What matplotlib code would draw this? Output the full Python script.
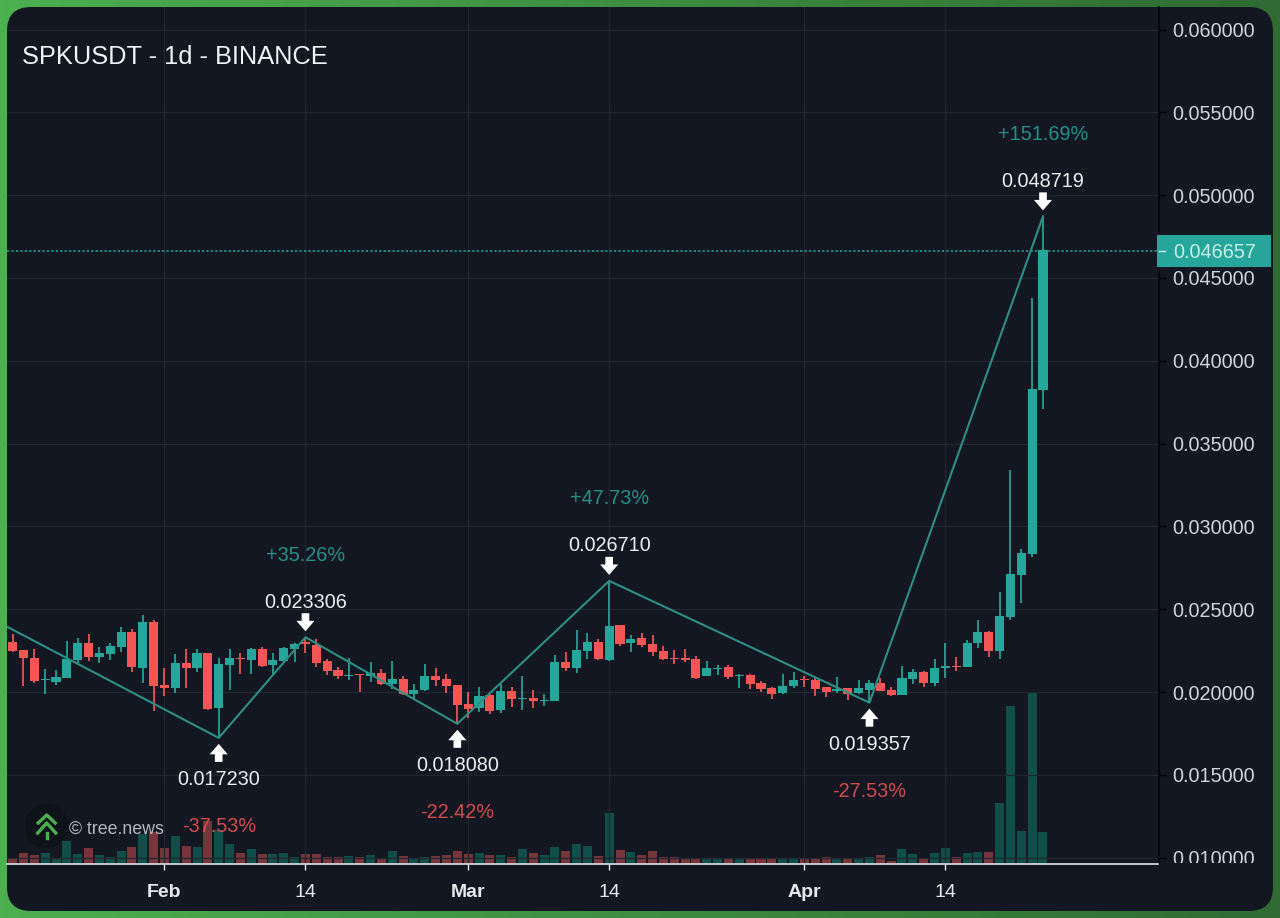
import numpy as np
import pandas as pd
import matplotlib
matplotlib.use("Agg")
import matplotlib.pyplot as plt
import matplotlib.dates as mdates
from matplotlib.patches import Circle, FancyBboxPatch, Rectangle
from matplotlib.transforms import Bbox, offset_copy

plt.rcParams['font.family'] = ['Liberation Sans', 'DejaVu Sans']

start_date = '2026-01-18'

# prices in thousandths of USDT
opens = [23.02, 22.51, 22.07, 20.70, 20.60, 20.84, 21.95, 22.97, 22.09, 22.31,
         22.69, 23.62, 21.45, 24.22, 20.40, 20.24, 21.77, 21.45, 22.37, 19.02,
         21.61, 22.05, 21.95, 22.57, 21.61, 21.87, 22.57, 23.02, 22.81, 21.85,
         21.35, 20.98, 21.07, 20.96, 21.17, 20.46, 20.78, 19.88, 20.10, 20.94,
         20.80, 20.40, 19.26, 19.02, 19.80, 18.89, 20.06, 19.56, 19.64, 19.48,
         19.44, 21.81, 21.43, 22.49, 23.02, 21.95, 24.02, 22.93, 23.24, 22.91,
         22.47, 22.05, 22.03, 22.01, 20.96, 21.39, 21.51, 20.96, 21.01, 20.56,
         20.24, 19.92, 20.34, 20.80, 20.74, 20.28, 20.06, 20.22, 19.94, 20.14,
         20.56, 20.12, 19.80, 20.80, 21.21, 20.54, 21.43, 21.57, 21.51, 22.94,
         23.64, 22.45, 24.51, 27.08, 28.33, 38.21]
highs = [23.52, 22.55, 22.61, 21.41, 21.31, 23.08, 23.28, 23.48, 22.71, 22.97,
         23.92, 23.82, 24.66, 24.36, 21.45, 22.31, 22.59, 22.57, 22.37, 22.03,
         22.57, 22.37, 22.67, 22.71, 22.37, 22.71, 22.97, 23.31, 23.18, 21.97,
         21.49, 22.07, 21.07, 21.81, 21.37, 21.89, 20.94, 20.50, 21.67, 21.45,
         21.11, 20.40, 19.98, 20.30, 19.86, 20.46, 20.28, 20.98, 20.14, 19.86,
         22.25, 22.39, 23.72, 23.58, 23.22, 26.71, 24.06, 23.46, 23.58, 23.46,
         22.79, 22.51, 22.59, 22.15, 21.85, 21.63, 21.65, 21.07, 21.07, 20.64,
         20.32, 21.07, 21.21, 20.98, 20.90, 20.32, 20.88, 20.26, 20.70, 20.70,
         20.86, 20.30, 21.55, 21.39, 21.25, 22.01, 22.94, 22.13, 23.14, 24.35,
         23.68, 26.04, 33.40, 28.61, 43.78, 48.72]
lows = [22.41, 20.34, 20.54, 19.86, 20.40, 20.84, 21.75, 21.85, 21.77, 21.95,
        22.41, 21.21, 20.54, 18.85, 19.78, 19.94, 20.24, 21.21, 18.91, 17.23,
        20.10, 21.07, 21.11, 21.51, 21.01, 21.81, 21.81, 22.37, 21.49, 21.01,
        20.80, 20.74, 20.00, 20.58, 20.42, 20.20, 19.84, 19.60, 20.04, 20.34,
        19.92, 18.08, 18.41, 18.79, 18.65, 18.73, 19.12, 18.89, 19.06, 19.18,
        19.44, 21.27, 21.13, 21.99, 21.93, 21.85, 22.75, 22.43, 22.73, 22.15,
        21.93, 21.71, 21.81, 20.76, 20.94, 21.03, 20.76, 20.24, 20.18, 20.02,
        19.58, 19.90, 20.26, 20.30, 19.74, 19.70, 19.96, 19.52, 19.90, 19.36,
        20.04, 19.76, 19.80, 20.50, 20.32, 20.36, 20.87, 21.27, 21.49, 22.68,
        22.13, 21.97, 24.35, 25.39, 28.13, 37.06]
closes = [22.45, 22.05, 20.64, 20.76, 20.88, 21.97, 22.97, 22.09, 22.37, 22.77,
          23.64, 21.49, 24.22, 20.36, 20.24, 21.75, 21.45, 22.37, 18.95, 21.67,
          22.03, 21.97, 22.59, 21.59, 21.95, 22.63, 22.91, 22.87, 21.77, 21.29,
          20.96, 21.05, 21.01, 21.15, 20.48, 20.78, 19.88, 20.12, 20.98, 20.74,
          20.36, 19.22, 18.99, 19.78, 18.87, 20.06, 19.56, 19.64, 19.46, 19.54,
          21.81, 21.43, 22.51, 23.02, 21.97, 23.98, 22.87, 23.22, 22.85, 22.39,
          22.01, 21.97, 21.95, 20.86, 21.43, 21.47, 20.90, 21.03, 20.50, 20.18,
          19.88, 20.38, 20.74, 20.74, 20.20, 20.00, 20.18, 19.88, 20.24, 20.56,
          20.06, 19.80, 20.84, 21.19, 20.54, 21.47, 21.59, 21.49, 22.98, 23.62,
          22.45, 24.59, 27.14, 28.39, 38.27, 46.66]
# volume relative to the biggest bar
volumes = [3.1, 6.6, 5.5, 6.6, 3.3, 13.1, 6.0, 9.4, 5.5, 3.9,
           7.8, 9.9, 17.6, 18.5, 9.4, 16.2, 10.5, 9.8, 24.8, 19.5,
           11.7, 6.6, 8.8, 6.0, 6.0, 6.6, 4.3, 5.7, 5.7, 4.1,
           4.1, 4.5, 4.1, 5.5, 2.9, 7.8, 4.7, 3.5, 4.3, 4.9,
           5.1, 7.8, 6.0, 6.6, 5.5, 5.5, 4.1, 8.8, 6.2, 5.1,
           9.8, 7.6, 11.9, 10.3, 4.5, 29.8, 8.2, 7.2, 5.5, 7.8,
           4.1, 4.1, 3.5, 3.5, 3.5, 2.9, 2.9, 3.3, 2.9, 2.9,
           2.9, 3.5, 3.5, 2.7, 3.3, 3.9, 3.5, 3.3, 3.5, 4.3,
           5.3, 2.0, 8.8, 5.7, 3.1, 6.6, 9.2, 3.9, 6.6, 7.0,
           7.2, 35.7, 91.7, 19.3, 100.0, 18.7]

# zigzag pivots, the first one sits just left of the visible range
pivot_dates = ['2026-01-17', '2026-02-06', '2026-02-14', '2026-02-28', '2026-03-14', '2026-04-07', '2026-04-23']
pivot_prices = [0.02411, 0.017230, 0.023306, 0.018080, 0.026710, 0.019357, 0.048719]
pivot_labels = [None, '0.017230', '0.023306', '0.018080', '0.026710', '0.019357', '0.048719']
pivot_changes = [None, '-37.53%', '+35.26%', '-22.42%', '+47.73%', '-27.53%', '+151.69%']

last_price = 0.046657
price_ticks = [0.010, 0.015, 0.020, 0.025, 0.030, 0.035, 0.040, 0.045, 0.050, 0.055, 0.060]
time_ticks = ['2026-02-01', '2026-02-14', '2026-03-01', '2026-03-14', '2026-04-01', '2026-04-14']
time_labels = ['Feb', '14', 'Mar', '14', 'Apr', '14']
month_labels = ['Feb', 'Mar', 'Apr']
title = 'SPKUSDT - 1d - BINANCE'

UP = '#26a69a'
DOWN = '#f65555'
VOL_UP = '#104f49'
VOL_DOWN = '#75363b'
PANEL = '#131722'
GRID = '#22262f'
LABEL = '#d1d4da'
WIDTH, HEIGHT = 1280, 918

fig = plt.figure(figsize=(WIDTH / 100, HEIGHT / 100), dpi=100)

# green frame and rounded panel, in pixel coordinates
bg = fig.add_axes([0, 0, 1, 1])
bg.set_xlim(0, WIDTH)
bg.set_ylim(HEIGHT, 0)
bg.axis('off')
frame = np.array([matplotlib.colors.to_rgb('#4caf50'), matplotlib.colors.to_rgb('#2f6b33')])
ramp = np.linspace(0, 1, 256)[None, :, None]
bg.imshow(frame[0] * (1 - ramp) + frame[1] * ramp, extent=[0, WIDTH, HEIGHT, 0], aspect='auto')
r = 24
bg.add_patch(FancyBboxPatch((7 + r, 7 + r), 1266 - 2 * r, 904 - 2 * r,
                            boxstyle=f'round,pad={r},rounding_size={r}',
                            facecolor=PANEL, edgecolor='none'))

dates = mdates.date2num(pd.date_range(start_date, periods=len(opens)))
o = np.array(opens) / 1000
h = np.array(highs) / 1000
l = np.array(lows) / 1000
c = np.array(closes) / 1000
colors = [UP if close >= op else DOWN for op, close in zip(o, c)]
vol_colors = [VOL_UP if close >= op else VOL_DOWN for op, close in zip(o, c)]

ax_left, ax_right, ax_top, ax_bottom = 7, 1158.5, 7, 864
ax = fig.add_axes([ax_left / WIDTH, 1 - ax_bottom / HEIGHT,
                   (ax_right - ax_left) / WIDTH, (ax_bottom - ax_top) / HEIGHT])
ax.patch.set_visible(False)
ax.set_zorder(3)
ax.set_ylim(0.009615, 0.06136)
ax.set_xlim(dates[0] - 0.52, dates[0] + 105.65)

# volume sits on its own scale under the candles
vol = ax.twinx()
vol.set_zorder(2)
vol.patch.set_visible(False)
vol.set_ylim(0, 498)
vol.bar(dates, volumes, width=0.83, color=vol_colors, linewidth=0)
vol.axis('off')

ax.grid(True, color=GRID, linewidth=0.9, zorder=0)
ax.set_axisbelow(True)
ax.vlines(dates, l, h, colors=colors, linewidth=1.25, zorder=2)
ax.bar(dates, np.abs(c - o), bottom=np.minimum(o, c), width=0.84, color=colors, linewidth=0, zorder=3)

piv_x = mdates.date2num(pd.to_datetime(pivot_dates))
ax.plot(piv_x, pivot_prices, color='#2b8f85', linewidth=1.5, zorder=4)

ax.axhline(last_price, color=UP, linewidth=1.1, linestyle=(0, (1.5, 1.4)), zorder=2)

# price tag on the axis
yt = ax.get_yaxis_transform()
ax_w = ax_right - ax_left
px_val = (0.06136 - 0.009615) / (ax_bottom - ax_top)
ax.add_patch(Rectangle((1 - 1.5 / ax_w, last_price - 16 * px_val), 114 / ax_w, 32 * px_val,
                       transform=yt, facecolor=UP, edgecolor='none', clip_on=False, zorder=5))
ax.plot([1, 1 + 6 / ax_w], [last_price, last_price], transform=yt, color='#c9efe9',
        linewidth=1, clip_on=False, zorder=6)
ax.text(1 + 15 / ax_w, last_price, f'{last_price:.6f}', transform=yt, color='#c9efe9',
        fontsize=14.3, va='center_baseline', ha='left', clip_on=False, zorder=6)

ax.set_yticks(price_ticks)
ax.set_yticklabels([f'{p:.6f}' for p in price_ticks])
ax.yaxis.tick_right()
ax.tick_params(axis='y', length=5, width=1, color='black', pad=5, labelsize=14.3, labelcolor=LABEL)
ax.set_xticks(mdates.date2num(pd.to_datetime(time_ticks)))
ax.set_xticklabels(time_labels)
ax.tick_params(axis='x', length=4, width=1, color='#e6e8ec', pad=10.3, labelsize=14, labelcolor='#e6e8ec')
for lbl in ax.get_xticklabels():
    if lbl.get_text() in month_labels:
        lbl.set_fontweight('bold')
# the lowest price label is cut by the time scale
for lbl in ax.get_yticklabels():
    lbl.set_clip_box(Bbox([[ax_right, HEIGHT - ax_bottom + 1], [WIDTH, HEIGHT]]))
    lbl.set_clip_on(True)

for side in ['left', 'top']:
    ax.spines[side].set_visible(False)
ax.spines['right'].set_color('black')
ax.spines['right'].set_linewidth(1.1)
ax.spines['bottom'].set_color('#dfe1e6')
ax.spines['bottom'].set_linewidth(1.2)

# pivot arrows, prices and percent moves
for x, p, lab, chg in zip(piv_x, pivot_prices, pivot_labels, pivot_changes):
    if lab is None:
        continue
    s = 1 if chg.startswith('+') else -1
    tip = offset_copy(ax.transData, fig=fig, y=s * 6, units='dots')
    tail = offset_copy(ax.transData, fig=fig, y=s * 24, units='dots')
    ax.annotate('', xy=(x, p), xycoords=tip, xytext=(x, p), textcoords=tail, zorder=7,
                arrowprops=dict(facecolor='white', edgecolor='none', width=5.5, headwidth=13,
                                headlength=7.5, shrink=0))
    txt = offset_copy(ax.transData, fig=fig, y=s * (37 if s > 0 else 40), units='dots')
    ax.text(x, p, lab, transform=txt, color='#eceef2', fontsize=14.3, ha='center', va='center_baseline', zorder=7)
    pct = offset_copy(ax.transData, fig=fig, y=s * (84 if s > 0 else 87), units='dots')
    ax.text(x, p, chg, transform=pct, color=UP if s > 0 else DOWN, alpha=0.85, fontsize=14.3,
            ha='center', va='center_baseline', zorder=7)

# title and watermark on a top layer in pixel coordinates
top = fig.add_axes([0, 0, 1, 1])
top.set_zorder(4)
top.set_xlim(0, WIDTH)
top.set_ylim(HEIGHT, 0)
top.axis('off')
top.text(22, 55, title, color='#f0f3fa', fontsize=18.3, va='center_baseline', ha='left')
top.add_patch(Circle((46.5, 826), 22, facecolor='#0e1219', edgecolor='none'))
for tip_y, half, drop in [(815, 8.5, 8), (823, 9, 10)]:
    top.plot([46.7 - half, 46.7, 46.7 + half], [tip_y + drop, tip_y, tip_y + drop], color='#4caf50', linewidth=2.4)
top.plot([46.7, 46.7], [833, 838], color='#4caf50', linewidth=2.4)
top.text(69, 827, '© tree.news', color='#b4b7bd', fontsize=12.8, va='center_baseline', ha='left')

fig.savefig('out.png', dpi=100)
